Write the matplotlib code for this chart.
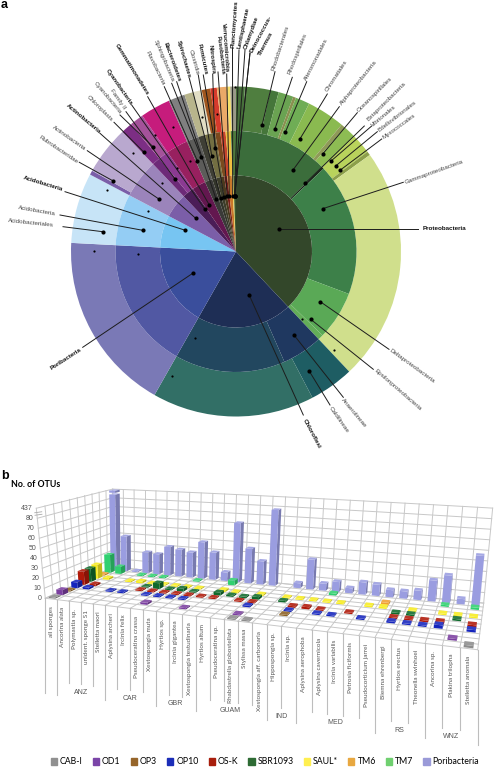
import numpy as np
import matplotlib
matplotlib.use("Agg")
import matplotlib.pyplot as plt
from matplotlib.colors import to_rgb
from matplotlib.patches import Patch

# --- panel a: ring spans in degrees, clockwise from 12 o'clock
outer_spans = [3.1, 8.9, 3, 5.3, 1, 5, 13.5, 1.5, 4.5, 7, 1.4, 82.5, 15.7, 57.2, 63.4, 24.8, 1.5, 17.2,
               4, 4.9, 10.6, 5.8, 3.2, 3, 3, 2.3, 3.5, 1.2, 2]
outer_colors = ['#466f3a', '#4f7e3f', '#45763a', '#6aa352', '#8a8f50', '#6fad55', '#8aba50', '#8f9a58',
                '#8dbc53', '#b9d35c', '#8c9f4a', '#d0df8c', '#1e5d63', '#326f66', '#7a79b6', '#c7e4f7',
                '#7a5ea8', '#b9a8cf', '#7c2e84', '#a4529a', '#c61c7c', '#808080', '#b8b58c', '#e2dec4',
                '#a0561f', '#d63a2c', '#eaa968', '#f5e06a', '#9a9a88']
middle_spans = [45.6, 1, 64, 23.5, 2.6, 19.6, 53.3, 63.4, 24.8, 18.7, 4, 4.9, 10.6, 5.8, 3.2, 5, 2.5, 2.5, 2.5, 2.5]
middle_colors = ['#3b6d3b', '#1a2a1a', '#3d8049', '#5aa956', '#63ad58', '#1f3860', '#22475f', '#5158a3',
                 '#94cdf4', '#9b84bb', '#6d2a78', '#8b3a92', '#98205f', '#5c5c5a', '#3f3f35', '#736f42',
                 '#7a4a1e', '#c8452c', '#f0c040', '#4e7a3e']
inner_spans = [136.7, 72.9, 63.4, 24.8, 18.7, 8.9, 10.6, 5.8, 3.2, 3, 3, 2.3, 3.5, 1.2, 2]
inner_colors = ['#33472a', '#1e2e55', '#3a4e9c', '#77c5f2', '#7b5ea8', '#4b1d57', '#63174f', '#3a3a38',
                '#33352a', '#3d3d2a', '#4a3a1e', '#7a1f1a', '#c9772a', '#e8d24a', '#3d5a2e']

# name, dot x, dot y, line end x, line end y, text x, text y, rotation, bold
taxa_labels = [
    ('Acidobacteriales', 102.7, 231.7, 63, 226.7, 30.7, 222.7, -6, False),
    ('Acidobacteria', 142.7, 230.3, 60, 215, 37, 210.7, -10, False),
    ('Acidobacteria', 185.3, 230.3, 65, 191.7, 42.7, 184, -17, True),
    ('Rubrobacteridae', 112.7, 180.7, 79.3, 162.3, 58.3, 150, -34, False),
    ('Actinobacteria', 159.3, 199.3, 87.3, 150.7, 69, 138, -35, False),
    ('Actinobacteria', 195.7, 218.3, 100, 133.3, 83.3, 119, -40, True),
    ('Chloroplasts', 143.7, 152, 114, 122.3, 100, 108, -45, False),
    ('Cyanobacteria', 153.3, 147, 120, 115, 107.3, 98, -50, False),
    ('Family II', 175, 179, 126, 111.7, 117.3, 99, -55, False),
    ('Cyanobacteria', 204.7, 209, 131.7, 105, 119.3, 86.7, -55, True),
    ('Gemmatimonadetes', 209.3, 205, 147.7, 96.7, 131.7, 69, -58, True),
    ('Flavobacteria', 197.3, 160.7, 164.3, 86.7, 155, 68.3, -64, False),
    ('Sphingobacteria', 201.3, 157.3, 171.7, 83.3, 164, 60.7, -67, False),
    ('Bacteroidetes', 216, 199, 176.7, 81.7, 171.7, 61.7, -70, True),
    ('Spirochaetes', 220.7, 197.7, 189.3, 78.3, 184, 59.3, -74, True),
    ('Clostridia', 211.7, 155.7, 198.3, 75, 193.3, 62.3, -74, False),
    ('Firmicutes', 224, 196.7, 203.3, 75, 202.3, 59.3, -78, True),
    ('Nitrospira', 215, 148.3, 212.7, 74, 211.7, 59.3, -84, True),
    ('Fusobacteria', 227.3, 196, 218, 72, 220, 55, -83, True),
    ('Verrucomicrobia', 229.3, 195.7, 226.7, 74, 225, 47.3, -86, True),
    ('Planctomycetes', 232.7, 195.7, 232.5, 48, 235, 24, 86, True),
    ('Lentisphaerae', 234.7, 195.7, 239, 50, 244, 28, 78, True),
    ('Chlamydiae', 234.7, 195.7, 245, 50, 251.7, 32.5, 70, True),
    ('Deinococcus-', 234.7, 195.7, 250, 53, 260.7, 34, 62, True),
    ('Thermus', 234.7, 195.7, 250, 53, 266, 44, 62, True),
    ('Rhodobacterales', 262, 125.3, 275, 71.7, 280.7, 48.3, 72, False),
    ('Rhodospirillales', 275, 128.7, 292.3, 77.3, 297.3, 53.3, 68, False),
    ('Alteromonadales', 285.3, 132.3, 306.7, 81.7, 316.7, 59.3, 63, False),
    ('Chromatiales', 299.7, 139.3, 327.3, 94, 336.7, 76, 57, False),
    ('Alphaproteobacteria', 293, 170, 339.3, 106.7, 358.3, 82.7, 51, False),
    ('Oceanospirillales', 322.7, 154, 357.3, 112.7, 375, 94, 45, False),
    ('Betaproteobacteria', 305.3, 183.3, 364.3, 126, 386.7, 101.7, 45, False),
    ('Vibrionales', 330.7, 161.3, 371.7, 126, 384, 116, 40, False),
    ('Bdellovibrionales', 336, 165.7, 377.3, 131.7, 397.3, 116, 38, False),
    ('Myxococcales', 340, 170.3, 381.7, 139, 399, 126, 36, False),
    ('Gammaproteobacteria', 322.7, 208.7, 403.3, 182.3, 434, 171.7, 20, False),
    ('Proteobacteria', 278.7, 229, 418.3, 229, 444, 229, 0, True),
    ('Deltaproteobacteria', 320.3, 301.7, 389, 349.3, 412.3, 366, -36, False),
    ('Epsilonproteobacteria', 310.7, 319.3, 373.3, 369.3, 397.7, 390, -41, False),
    ('Anaerolineae', 293.7, 334.7, 343.3, 397.3, 354.3, 412.7, -50, False),
    ('Caldilineae', 309, 370.7, 330, 405, 338.7, 420, -55, False),
    ('Chloroflexi', 249.3, 295.3, 303.3, 415, 311.7, 433.3, -62, True),
    ('Poribacteria', 192.7, 273.3, 82.7, 347.3, 65.7, 359, 33, True),
]
small_dots_x = [106.7, 148, 132.7, 162.3, 155.3, 173, 177, 190.3, 201.7, 217, 235, 94.3, 138.3, 195.3, 172, 302.3, 333.7]
small_dots_y = [189.7, 210.7, 153, 183, 135, 126.7, 167.7, 161.3, 117.3, 114.3, 87, 250.7, 253.7, 338.3, 376, 319.3, 350]

# --- panel b: OTU counts per sponge and candidate phylum
sponges = ['all sponges', 'Ancorina alata', 'Polymastia sp.', 'unident. sponge S1', 'Stelletta maori',
           'Aplysina archeri', 'Ircinia felix', 'Pseudoceratina crassa', 'Xestospongia muta', 'Hyrtios sp.',
           'Ircinia gigantea', 'Xestospongia testudinaria', 'Hyrtios altum', 'Pseudoceratina sp.',
           'Rhabdastrella globostellata', 'Stylissa massa', 'Xestospongia aff. carbonaria', 'Hippospongia sp.',
           'Ircinia sp.', 'Aplysina aerophoba', 'Aplysina cavernicola', 'Ircinia variabilis', 'Petrosia ficiformis',
           'Pseudocorticium jarrei', 'Biemna ehrenbergi', 'Hyrtios erectus', 'Theonella swinhoei', 'Ancorina sp.',
           'Plakina trilopha', 'Stelletta anomala']
regions = ['ANZ', 'CAR', 'GBR', 'GUAM', 'IND', 'MED', 'RS', 'WNZ']
region_edges = [1, 5, 9, 12, 17, 19, 24, 27, 30]

cab_i = [.5, 0, 0, 0, 0, 0, 0, 0, 0, 0, 0, 0, 0, 0, 1, 1, 0, 0, 0, 0, 0, 0, 0, 0, 0, 0, 0, 0, 0, 2]
od1 = [5, 0, 0, 0, 0, 0, 0, 2, 0, 0, 1, 0, 0, 0, 1, 0, 0, 0, 0, 0, 0, 0, 0, 0, 0, 0, 0, 0, 1.5, 0]
op3 = [1, 0, 0, 0, 0, 0, 0, 0, 0, 0, 0, 0, 0, 0, 0, 0, 0, 1, 0, 0, 0, 0, 0, 0, 0, 0, 0, 0, 0, 0]
op10 = [6, 2, 0, 1, 1, 0, 1, 1, 1, 1, 0, 0, 0, 0, 1.5, 0, 0, 1, 0, 1, 1, 0, 1, 0, 1.5, 1, 1, 3, 0, 2]
os_k = [14, 2, 0, 0, 0, 1, 1, 1, 1, 1, 1, 1, 0, 1, 1, 0, 0, 1.5, 2, 1, 0, 1, 0, 0, 1, 1, 1.5, 2, 0, 2]
sbr1093 = [14, 0, 0, 0, 0, 1, 6, 1, 3, 1, 0, 3, 1.5, 1.5, 2.5, 0, 1.5, 0, 0, 0, 0, 0, 0, 0, 1.5, 1.5, 0, 0, 1.5, 0]
saul = [15, 2, 0, 1, 2, 1, 1, 1, 1, 1, 0, 2, 1, 0, 1.5, 0, 1, 1, 1, 1, 1, 0, 1.5, 1.5, 0, 1, 0, 1, 1, 1]
tm6 = [1.5, 0, 0, 0, 0, 0, 0, 0, 0, 0, 0, 0, 0, 0, 0, 0, 0, 0, 0, 0, 0, 0, 0, 2, 0, 0, 0, 0, 0, 0]
tm7 = [20, 8, 0, 1, 1, 1, 0, 0, 1, 0, 0, 5, 0, 0, 0, 0, 0, 0, 0, 2, 0, 0, 0, 0, 0, 0, 0, 1.5, 0, 2]
poribacteria = [437, 39, 1, 23, 22, 31, 29, 27, 39, 29, 9, 62, 36, 24, 78, 0, 5, 30, 7, 10, 5, 12, 11, 7, 7, 9, 20, 26, 5, 47]

series_names = ['CAB-I', 'OD1', 'OP3', 'OP10', 'OS-K', 'SBR1093', 'SAUL*', 'TM6', 'TM7', 'Poribacteria']
series_values = [cab_i, od1, op3, op10, os_k, sbr1093, saul, tm6, tm7, poribacteria]
series_colors = ['#8c8c8c', '#7b3fa0', '#8c6020', '#1525bd', '#b01808', '#0f6a2c', '#f7ec20', '#f0a030', '#30d070', '#9a9de0']
legend_colors = ['#909090', '#7b45a8', '#96652a', '#1b2db8', '#a81e0c', '#2e6b34', '#ffef50', '#e8a840', '#70d070', '#9a9ad8']
value_ticks = [0, 10, 20, 30, 40, 50, 60, 70, 80, 437]


def fit_homography(pairs):
    rows = []
    targets = []
    for (u, w), (x, y) in pairs:
        rows.append([u, w, 1, 0, 0, 0, -u * x, -w * x])
        rows.append([0, 0, 0, u, w, 1, -u * y, -w * y])
        targets += [x, y]
    sol = np.linalg.lstsq(np.array(rows, float), np.array(targets, float), rcond=None)[0]
    return np.append(sol, 1).reshape(3, 3)


# floor plane of the Excel style 3D chart, fitted on its corners and edge midpoints
floor_h = fit_homography([((0, 0), (46, 597)), ((1, 0), (478, 652)), ((1, 1), (483, 603)), ((0, 1), (113, 567)),
                          ((.5, 0), (236.7, 621)), ((.5, 1), (283, 584)), ((0, .5), (82, 582.5)), ((1, .5), (481, 622))])
n_cat = len(sponges)
n_ser = len(series_names)


def axis_height(v):
    # the value axis is broken between 80 and 437
    return np.interp(v, [0, 80, 437], [0, 80, 90])


def project(cat, ser, h):
    u, w = cat / n_cat, ser / n_ser
    a = floor_h @ np.array([u, w, 1.0])
    a = a[:2] / a[2]
    # wall height and lean at the four floor corners: front left, front right, back right, back left
    rise = (1 - u) * (1 - w) * 90 + u * (1 - w) * 107 + u * w * 95 + (1 - u) * w * 78
    lean = (1 - u) * (1 - w) * -9 + u * (1 - w) * 13 + u * w * 9 + (1 - u) * w * -1
    return a + np.array([lean, -rise]) * h / 90.0


def shade(color, k):
    rgb = np.array(to_rgb(color))
    return tuple(rgb * k) if k <= 1 else tuple(rgb + (1 - rgb) * (k - 1))


def draw_box(ax, c0, c1, s0, s1, h0, h1, color, z):
    front = [project(c0, s0, h0), project(c1, s0, h0), project(c1, s0, h1), project(c0, s0, h1)]
    side = [project(c1, s0, h0), project(c1, s1, h0), project(c1, s1, h1), project(c1, s0, h1)]
    top = [project(c0, s0, h1), project(c1, s0, h1), project(c1, s1, h1), project(c0, s1, h1)]
    for face, k in ((side, 0.78), (front, 1.0), (top, 1.12)):
        ax.fill(*zip(*face), color=shade(color, k), lw=0, zorder=z)


fig = plt.figure(figsize=(4.94, 7.67), dpi=100)
ax = fig.add_axes([0, 0, 1, 1])

# rings
cx, cy = 236, 251.5
for spans, colors, r, width in ((outer_spans, outer_colors, 165, 44.5), (middle_spans, middle_colors, 120.5, 44.5),
                                (inner_spans, inner_colors, 76, 76)):
    ax.pie(spans, colors=colors, radius=r, center=(cx, cy), startangle=-90, counterclock=True,
           wedgeprops=dict(width=width, linewidth=0))

ax.set_xlim(0, 494)
ax.set_ylim(767, 0)
ax.axis('off')

# labels with leader lines
for name, dx, dy, lx, ly, tx, ty, rot, bold in taxa_labels:
    ax.plot([dx, lx], [dy, ly], color='#1c1c1c', lw=0.7, zorder=5)
    ax.scatter([dx], [dy], s=9, color='black', lw=0, zorder=6)
    ax.text(tx, ty, name, rotation=rot, ha='center', va='center', rotation_mode='anchor',
            family='Liberation Sans', fontsize=4.5, fontweight='bold' if bold else 'normal',
            color='#111111' if bold else '#444444')
ax.scatter(small_dots_x, small_dots_y, s=2.5, color='black', lw=0, zorder=6)

ax.text(1, 5, 'a', fontsize=9, fontweight='bold', family='Liberation Sans', va='center')
ax.text(1, 476, 'b', fontsize=9, fontweight='bold', family='Liberation Sans', va='center')
ax.text(11, 484.5, 'No. of OTUs', fontsize=6.3, fontweight='bold', family='Lato', va='center')

# walls and floor grid
grid = dict(color='#c8c8c8', lw=0.7, zorder=1)
for i in range(n_cat + 1):
    ax.plot(*zip(project(i, n_ser, 0), project(i, n_ser, 90)), **grid)
    ax.plot(*zip(project(i, 0, 0), project(i, n_ser, 0)), **grid)
for j in range(n_ser + 1):
    ax.plot(*zip(project(0, j, 0), project(0, j, 90)), **grid)
    ax.plot(*zip(project(0, j, 0), project(n_cat, j, 0)), **grid)
for v in value_ticks:
    h = axis_height(v)
    pts = [project(0, 0, h), project(0, n_ser, h)] + [project(i, n_ser, h) for i in range(n_cat + 1)]
    ax.plot(*zip(*pts), **grid)
    ax.text(pts[0][0] - 3.5, pts[0][1], str(v), ha='right', va='center', fontsize=5, family='Liberation Sans', color='#555555')
for h in (83, 85.5):
    p = project(0, 0, h)
    ax.plot([p[0] - 2, p[0] + 5], [p[1], p[1] - 1], color='#aaaaaa', lw=0.6, zorder=2)

# bars, back rows first
for j in range(n_ser - 1, -1, -1):
    for i in range(n_cat):
        v = series_values[j][i]
        if v <= 0:
            continue
        c0, c1, s0, s1 = i + 0.2, i + 0.75, j + 0.15, j + 0.85
        z = 3 + (n_ser - j) * 0.01
        if v > 80:
            draw_box(ax, c0, c1, s0, s1, 0, 85.5, series_colors[j], z)
            draw_box(ax, c0, c1, s0, s1, 87.5, axis_height(v), series_colors[j], z)
        else:
            draw_box(ax, c0, c1, s0, s1, 0, max(axis_height(v), 1.2), series_colors[j], z)

# separators under the front edge, longer where a region starts or ends
long_edges = set(region_edges) | {0}
for i in range(n_cat + 1):
    x, y = project(i, 0, 0)
    ax.plot([x, x], [y, y + (95 if i in long_edges else 82)], color='#bdbdbd', lw=0.8, zorder=1)
for i, name in enumerate(sponges):
    x, y = project(i + 0.5, 0, 0)
    ax.text(x, y + 7, name, rotation=90, ha='center', va='top', fontsize=4.6, family='Lato', color='#555555')
for k, name in enumerate(regions):
    x, y = project((region_edges[k] + region_edges[k + 1]) / 2, 0, 0)
    ax.text(x, y + 90, name, ha='center', va='center', fontsize=5, family='Liberation Sans', color='#555555')

handles = [Patch(color=c, label=n) for c, n in zip(legend_colors, series_names)]
ax.legend(handles=handles, ncol=10, loc='center', bbox_to_anchor=(265 / 494, 1 - 762 / 767), frameon=False,
          prop=dict(family='Lato', size=6.3), handlelength=0.7, handleheight=0.7, handletextpad=0.35,
          columnspacing=1.15, borderpad=0, borderaxespad=0)

fig.savefig('out.png', dpi=100)
